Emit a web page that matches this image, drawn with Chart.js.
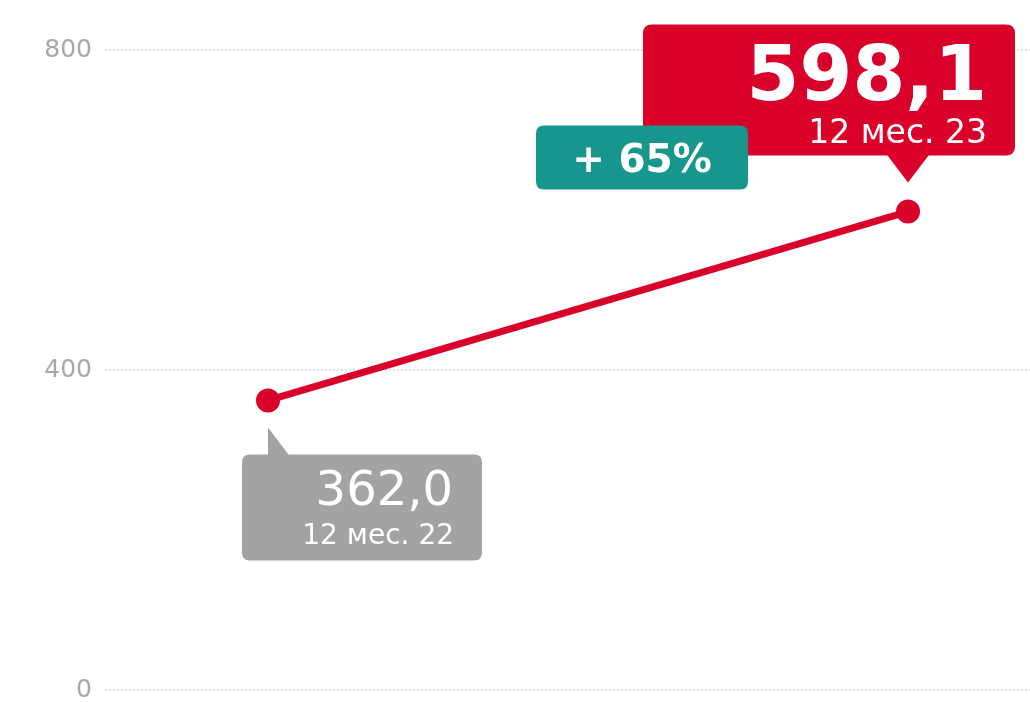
<!DOCTYPE html>
<html>
<head>
<meta charset="utf-8">
<script src="https://cdn.jsdelivr.net/npm/chart.js@4.4.1/dist/chart.umd.min.js"></script>
<style>
  html, body { margin: 0; padding: 0; background: #fff; }
  #wrap { width: 1030px; height: 702px; }
</style>
</head>
<body>
<div id="wrap"><canvas id="chart"></canvas></div>
<script>
// data
const periods = ['12 мес. 22', '12 мес. 23'];
const values = [362.0, 598.1];
const yTicks = [0, 400, 800];

const RED = '#d9002a';
const TEAL = '#17968d';
const GREY = '#a3a3a3';
const FONT = '"DejaVu Sans", sans-serif';

const fmt = v => v.toFixed(1).replace('.', ',');

function roundRect(ctx, x, y, w, h, r) {
    ctx.beginPath();
    ctx.moveTo(x + r, y);
    ctx.lineTo(x + w - r, y);
    ctx.quadraticCurveTo(x + w, y, x + w, y + r);
    ctx.lineTo(x + w, y + h - r);
    ctx.quadraticCurveTo(x + w, y + h, x + w - r, y + h);
    ctx.lineTo(x + r, y + h);
    ctx.quadraticCurveTo(x, y + h, x, y + h - r);
    ctx.lineTo(x, y + r);
    ctx.quadraticCurveTo(x, y, x + r, y);
    ctx.closePath();
}

// callouts drawn next to the points
const calloutPlugin = {
    id: 'callouts',
    afterDatasetsDraw(chart) {
        const { ctx } = chart;
        const pts = chart.getDatasetMeta(0).data;
        const p0 = pts[0], p1 = pts[1];
        ctx.save();

        // first point - grey box below
        ctx.fillStyle = GREY;
        roundRect(ctx, p0.x - 26, p0.y + 54, 240, 106, 8);
        ctx.fill();
        ctx.beginPath();
        ctx.moveTo(p0.x, p0.y + 27);
        ctx.lineTo(p0.x, p0.y + 56);
        ctx.lineTo(p0.x + 22, p0.y + 56);
        ctx.closePath();
        ctx.fill();
        ctx.fillStyle = '#fff';
        ctx.textAlign = 'right';
        ctx.textBaseline = 'alphabetic';
        ctx.font = '400 48px ' + FONT;
        ctx.fillText(fmt(values[0]), p0.x + 185, p0.y + 105);
        ctx.font = '400 28px ' + FONT;
        ctx.fillText(periods[0], p0.x + 186, p0.y + 144);

        // second point - red box above
        ctx.fillStyle = RED;
        roundRect(ctx, p1.x - 265, p1.y - 187, 372, 131, 9);
        ctx.fill();
        ctx.beginPath();
        ctx.moveTo(p1.x - 22, p1.y - 58);
        ctx.lineTo(p1.x + 22, p1.y - 58);
        ctx.lineTo(p1.x, p1.y - 29);
        ctx.closePath();
        ctx.fill();
        ctx.fillStyle = '#fff';
        ctx.font = '700 76px ' + FONT;
        ctx.fillText(fmt(values[1]), p1.x + 79, p1.y - 112);
        ctx.font = '400 33px ' + FONT;
        ctx.fillText(periods[1], p1.x + 79, p1.y - 69);

        // change badge
        const change = Math.round((values[1] / values[0] - 1) * 100);
        ctx.fillStyle = TEAL;
        roundRect(ctx, p1.x - 372, p1.y - 86, 212, 64, 8);
        ctx.fill();
        ctx.fillStyle = '#fff';
        ctx.textAlign = 'center';
        ctx.font = '700 39px ' + FONT;
        ctx.fillText('+ ' + change + '%', p1.x - 266, p1.y - 40);

        ctx.restore();
    }
};

new Chart(document.getElementById('chart'), {
    type: 'line',
    data: {
        datasets: [{
            data: values.map((v, i) => ({ x: i + 1, y: v })),
            borderColor: RED,
            backgroundColor: RED,
            borderWidth: 7,
            pointRadius: 12,
            pointBorderWidth: 0,
            pointBackgroundColor: RED,
            tension: 0
        }]
    },
    options: {
        responsive: true,
        maintainAspectRatio: false,
        animation: false,
        layout: { autoPadding: false, padding: { top: 50, bottom: 12, left: 0, right: 0 } },
        plugins: {
            legend: { display: false },
            tooltip: { enabled: false }
        },
        scales: {
            x: {
                type: 'linear',
                display: false,
                min: 0.7453,
                max: 2.1906
            },
            y: {
                min: 0,
                max: 800,
                afterBuildTicks: scale => { scale.ticks = yTicks.map(v => ({ value: v })); },
                afterFit: scale => {
                    scale.width = 105;
                    scale.paddingTop = 0;
                    scale.paddingBottom = 0;
                },
                grid: {
                    color: '#e2e2e2',
                    lineWidth: 2,
                    drawTicks: false
                },
                border: { display: false, dash: [2, 2] },
                ticks: {
                    padding: 13,
                    color: '#a8a8a8',
                    font: { family: FONT, size: 25 }
                }
            }
        }
    },
    plugins: [calloutPlugin]
});
</script>
</body>
</html>
